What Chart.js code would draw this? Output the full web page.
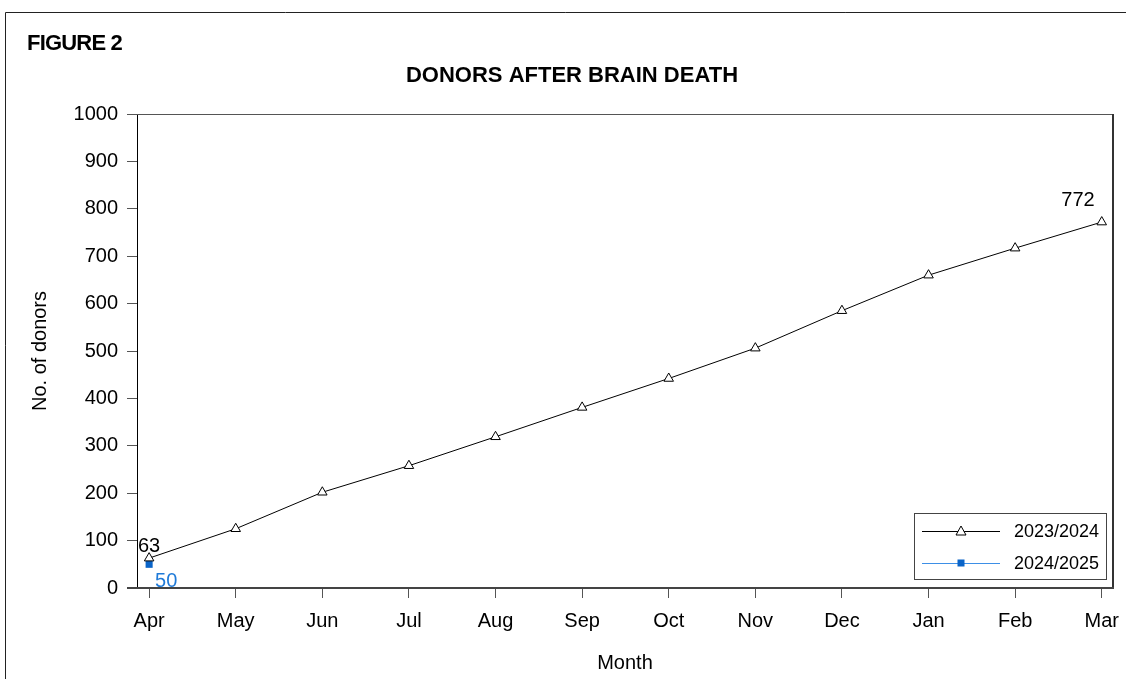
<!DOCTYPE html>
<html>
<head>
<meta charset="utf-8">
<script src="https://cdn.jsdelivr.net/npm/chart.js@4/dist/chart.umd.min.js"></script>
<style>
  html, body { margin: 0; padding: 0; background: #fff; }
  #wrap { width: 1126px; height: 679px; }
</style>
</head>
<body>
<div id="wrap"><canvas id="chart" width="1126" height="679"></canvas></div>
<script>
const months = ['Apr', 'May', 'Jun', 'Jul', 'Aug', 'Sep', 'Oct', 'Nov', 'Dec', 'Jan', 'Feb', 'Mar'];
const donors2324 = [63, 125, 202, 258, 319, 381, 442, 506, 585, 660, 717, 772];
const donors2425 = [50];
const yTicks = [0, 100, 200, 300, 400, 500, 600, 700, 800, 900, 1000];

const FONT = '"Liberation Sans", Arial, sans-serif';
const BLUE = '#0a64c8';

const toPoints = arr => arr.map((v, i) => ({ x: i, y: v }));

// titles, frame, plot box, value labels and legend
const decor = {
  id: 'decor',
  afterDraw(chart) {
    const ctx = chart.ctx;
    const a = chart.chartArea;
    ctx.save();

    // outer frame
    ctx.strokeStyle = '#222';
    ctx.lineWidth = 1;
    ctx.beginPath();
    ctx.moveTo(5.5, 679);
    ctx.lineTo(5.5, 12.5);
    ctx.lineTo(1126, 12.5);
    ctx.stroke();

    // plot box
    ctx.strokeStyle = '#000';
    ctx.beginPath(); ctx.moveTo(a.left + 0.5, a.top); ctx.lineTo(a.left + 0.5, a.bottom); ctx.stroke();
    ctx.strokeStyle = '#555';
    ctx.beginPath(); ctx.moveTo(a.left - 10, a.top + 0.5); ctx.lineTo(a.right, a.top + 0.5); ctx.stroke();
    ctx.lineWidth = 2;
    ctx.strokeStyle = '#333';
    ctx.beginPath(); ctx.moveTo(a.right, a.top); ctx.lineTo(a.right, a.bottom + 1); ctx.stroke();
    ctx.strokeStyle = '#444';
    ctx.beginPath(); ctx.moveTo(a.left - 10, a.bottom); ctx.lineTo(a.right + 1, a.bottom); ctx.stroke();

    // headings
    ctx.fillStyle = '#000';
    ctx.textBaseline = 'alphabetic';
    ctx.font = 'bold 22px ' + FONT;
    ctx.letterSpacing = '-0.8px';
    ctx.textAlign = 'left';
    ctx.fillText('FIGURE 2', 27, 50);
    ctx.letterSpacing = '0px';
    ctx.font = 'bold 22px ' + FONT;
    ctx.textAlign = 'center';
    ctx.fillText('DONORS AFTER BRAIN DEATH', 572, 82);

    // value labels
    const m1 = chart.getDatasetMeta(0).data;
    const m2 = chart.getDatasetMeta(1).data;
    ctx.font = '20px ' + FONT;
    ctx.textAlign = 'center';
    ctx.fillText(String(donors2324[0]), m1[0].x, m1[0].y - 6);
    const last = donors2324.length - 1;
    ctx.textAlign = 'right';
    ctx.fillText(String(donors2324[last]), m1[last].x - 7, m1[last].y - 16);
    ctx.fillStyle = '#1f7ad8';
    ctx.textAlign = 'left';
    ctx.fillText(String(donors2425[0]), m2[0].x + 6, m2[0].y + 23);

    // legend
    const lx = 914, ly = 513, lw = 192, lh = 66;
    ctx.fillStyle = '#fff';
    ctx.fillRect(lx, ly, lw, lh);
    ctx.lineWidth = 1;
    ctx.strokeStyle = '#444';
    ctx.strokeRect(lx + 0.5, ly + 0.5, lw, lh);
    const rows = [
      { label: '2023/2024', y: 531, line: '#000', draw: (x, y) => {
          ctx.beginPath(); ctx.moveTo(x, y - 5); ctx.lineTo(x + 5, y + 4); ctx.lineTo(x - 5, y + 4); ctx.closePath();
          ctx.fillStyle = '#fff'; ctx.fill(); ctx.strokeStyle = '#000'; ctx.stroke(); } },
      { label: '2024/2025', y: 563, line: '#3d8fe6', draw: (x, y) => {
          ctx.fillStyle = BLUE; ctx.fillRect(x - 3.5, y - 3.5, 7, 7); } }
    ];
    ctx.font = '18px ' + FONT;
    ctx.textAlign = 'left';
    ctx.textBaseline = 'middle';
    rows.forEach(r => {
      ctx.strokeStyle = r.line;
      ctx.lineWidth = 1;
      ctx.beginPath(); ctx.moveTo(922, r.y + 0.5); ctx.lineTo(1000, r.y + 0.5); ctx.stroke();
      r.draw(961, r.y);
      ctx.fillStyle = '#000';
      ctx.fillText(r.label, 1014, r.y + 1);
    });

    ctx.restore();
  }
};

new Chart(document.getElementById('chart'), {
  type: 'line',
  data: {
    datasets: [
      {
        label: '2023/2024',
        data: toPoints(donors2324),
        borderColor: '#000',
        borderWidth: 1,
        pointStyle: 'triangle',
        pointRadius: 5.5,
        pointBackgroundColor: '#fff',
        pointBorderColor: '#000',
        pointBorderWidth: 1,
        tension: 0,
        clip: false
      },
      {
        label: '2024/2025',
        data: toPoints(donors2425),
        borderColor: '#3d8fe6',
        borderWidth: 1,
        pointStyle: 'rect',
        pointRadius: 5,
        pointBackgroundColor: BLUE,
        pointBorderColor: BLUE,
        pointBorderWidth: 0,
        clip: false
      }
    ]
  },
  options: {
    responsive: false,
    animation: false,
    layout: { padding: { top: 114, right: 13, left: 0, bottom: 0 } },
    plugins: { legend: { display: false }, tooltip: { enabled: false } },
    scales: {
      x: {
        type: 'linear',
        min: -0.14,
        max: 11.13,
        afterBuildTicks: s => { s.ticks = months.map((_, i) => ({ value: i })); },
        afterFit: s => { s.height = 91; s.paddingLeft = 0; s.paddingRight = 0; },
        grid: { drawOnChartArea: false, drawTicks: true, tickLength: 10, color: '#555' },
        border: { display: false },
        ticks: { autoSkip: false, maxRotation: 0, padding: 11, color: '#000',
          font: { family: FONT, size: 20 }, callback: v => months[v] },
        title: { display: true, text: 'Month', color: '#000', padding: { top: 2 },
          font: { family: FONT, size: 20 } }
      },
      y: {
        min: 0,
        max: 1000,
        afterBuildTicks: s => { s.ticks = yTicks.map(v => ({ value: v })); },
        afterFit: s => { s.width = 137; s.paddingTop = 0; s.paddingBottom = 0; },
        grid: { drawOnChartArea: false, drawTicks: true, tickLength: 10, color: '#555' },
        border: { display: false },
        ticks: { padding: 9, color: '#000', font: { family: FONT, size: 20 },
          callback: v => String(v) },
        title: { display: true, text: 'No. of donors', color: '#000', padding: { top: 28 },
          font: { family: FONT, size: 20 } }
      }
    }
  },
  plugins: [decor]
});
</script>
</body>
</html>
